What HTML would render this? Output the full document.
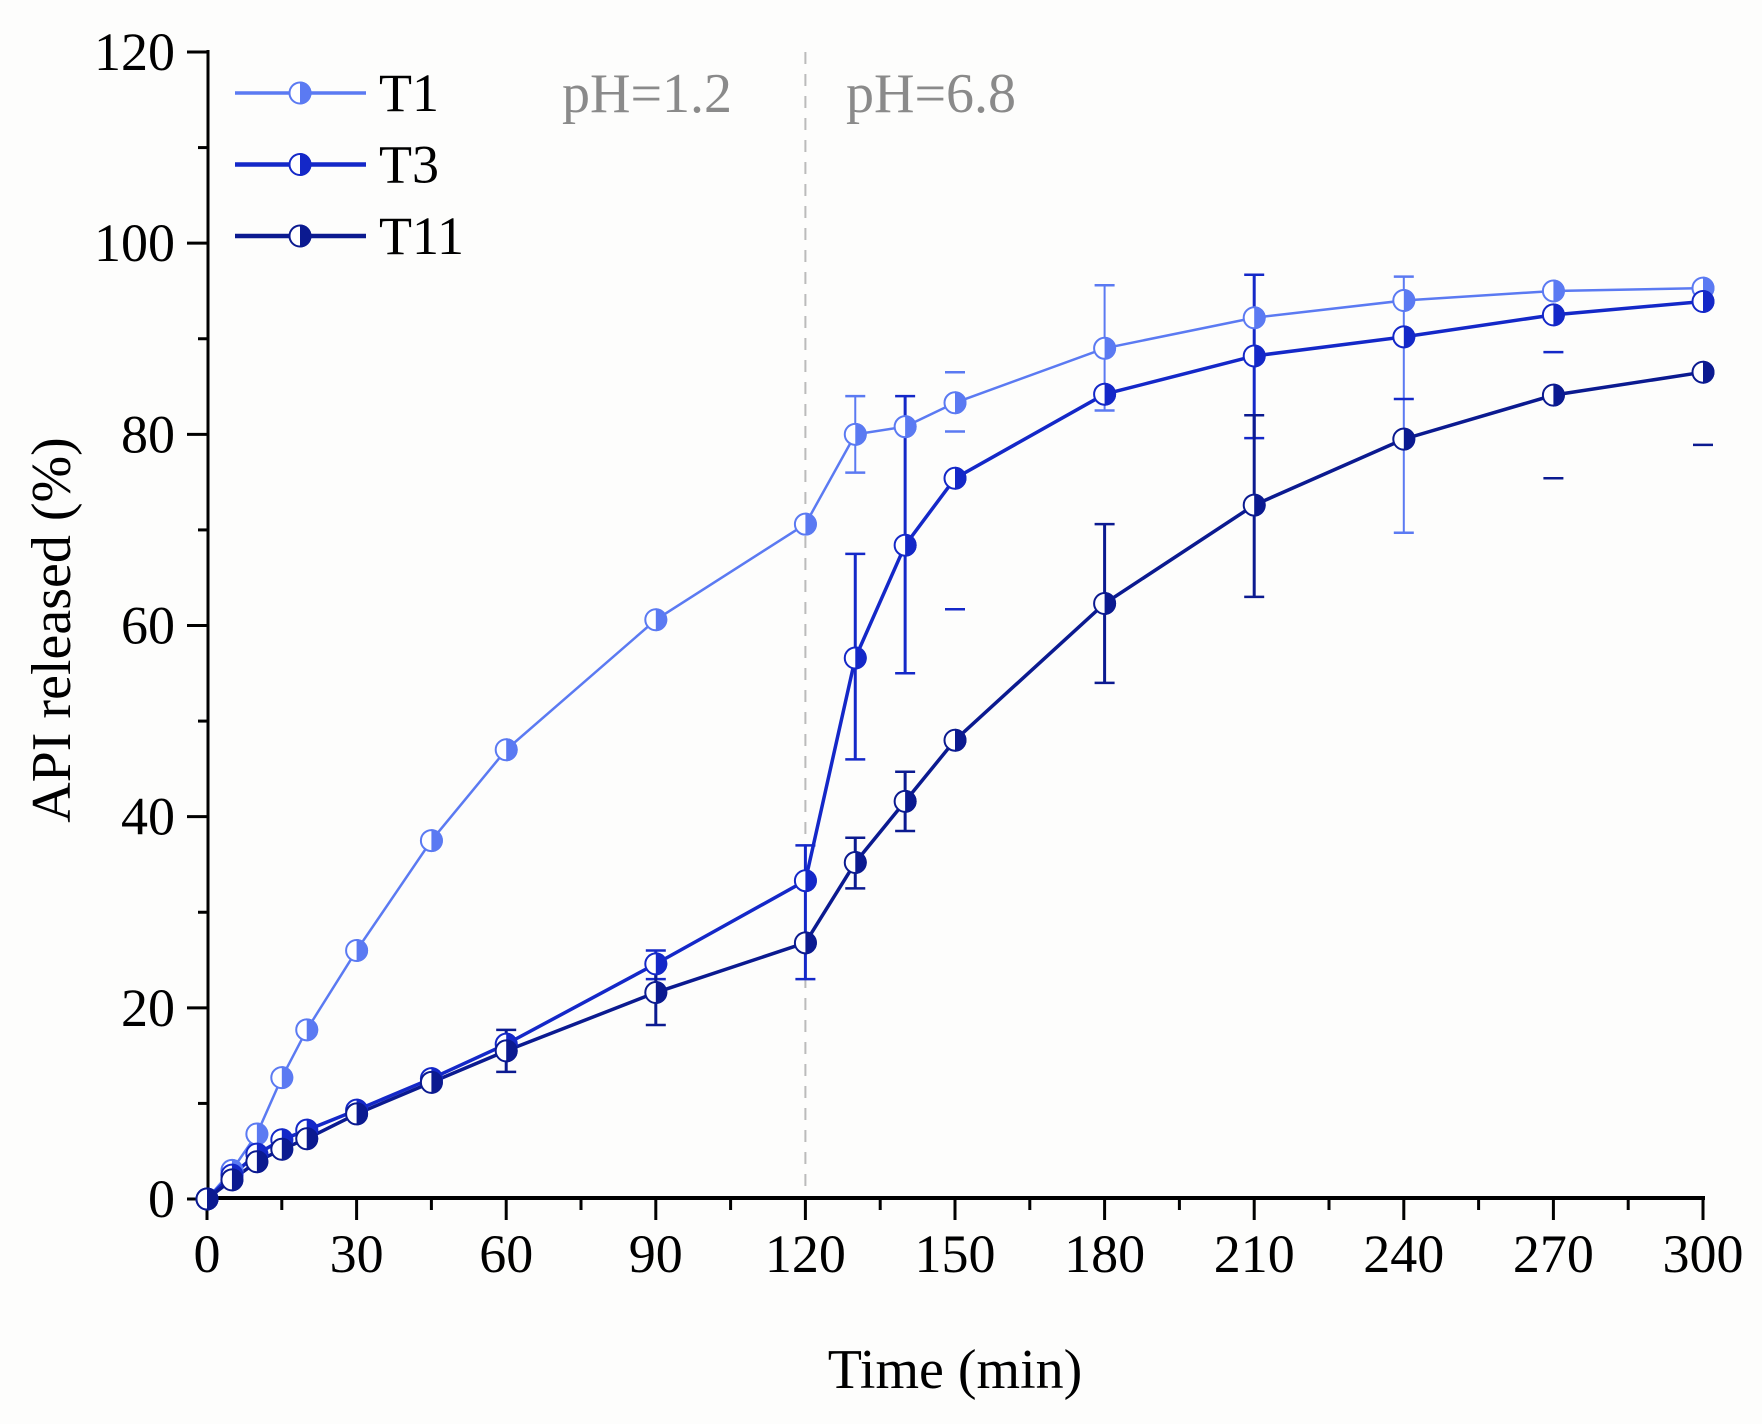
<!DOCTYPE html>
<html><head><meta charset="utf-8"><style>
html,body{margin:0;padding:0;background:#fdfdfc;}
svg{display:block;font-family:"Liberation Serif",serif;}
</style></head><body>
<svg id="s" width="1762" height="1424" viewBox="0 0 1762 1424" xmlns="http://www.w3.org/2000/svg">
<rect width="1762" height="1424" fill="#fdfdfc"/>
</svg>
<script>
const s=document.getElementById('s');const NS='http://www.w3.org/2000/svg';
function el(t,a,txt){const e=document.createElementNS(NS,t);for(const k in a)e.setAttribute(k,a[k]);if(txt!==undefined)e.textContent=txt;s.appendChild(e);return e;}
const X=t=>207+t*(1703-207)/300, Y=v=>1199-v*(1199-52)/120;
el('line',{x1:X(120),y1:52,x2:X(120),y2:1198,stroke:'#bbb','stroke-width':2,'stroke-dasharray':'12,10'});
el('line',{x1:208,y1:50,x2:208,y2:1200,stroke:'#000','stroke-width':3});
el('line',{x1:206,y1:1198,x2:1705,y2:1198,stroke:'#000','stroke-width':4});
for(let v=0;v<=120;v+=10){const y=Y(v);const maj=v%20==0;el('line',{x1:maj?187:198,y1:y,x2:208,y2:y,stroke:'#000','stroke-width':3});
 if(maj)el('text',{x:175,y:y+18,'font-size':54,'text-anchor':'end'},v);}
for(let t=0;t<=300;t+=15){const x=X(t);const maj=t%30==0;el('line',{x1:x,y1:1198,x2:x,y2:maj?1220:1210,stroke:'#000','stroke-width':3});
 if(maj)el('text',{x:x,y:1272,'font-size':54,'text-anchor':'middle'},t);}
el('text',{x:955,y:1388,'font-size':56,'text-anchor':'middle'},'Time (min)');
el('text',{x:0,y:0,'font-size':56,'text-anchor':'middle',transform:'translate(70,630) rotate(-90)'},'API released (%)');
el('text',{x:562,y:112,'font-size':56,fill:'#8a8a8a'},'pH=1.2');
el('text',{x:846,y:112,'font-size':56,fill:'#8a8a8a'},'pH=6.8');
const T=[0,5,10,15,20,30,45,60,90,120,130,140,150,180,210,240,270,300];
const S=[
 {n:'T1',c:'#5b7af2',w:2.5,d:[0,3,6.8,12.7,17.7,26,37.5,47,60.6,70.6,80,80.8,83.3,89,92.2,94,95,95.3],
  e:{130:[76,84],180:[82.5,95.6],240:[69.7,96.5]},cap:{150:[80.3,86.5]}},
 {n:'T3',c:'#1428c8',w:3.5,d:[0,2.5,4.7,6.2,7.2,9.3,12.6,16.2,24.6,33.3,56.6,68.4,75.4,84.2,88.2,90.2,92.5,93.9],
  e:{120:[23,37],130:[46,67.5],140:[55,84],210:[79.6,96.7],90:[23,26]},cap:{150:[61.7],240:[83.7],270:[88.6]}},
 {n:'T11',c:'#0b1a90',w:3.5,d:[0,2,3.9,5.2,6.3,8.9,12.2,15.5,21.6,26.8,35.2,41.6,48,62.3,72.6,79.5,84.1,86.5],
  e:{60:[13.3,17.7],90:[18.2,25],130:[32.5,37.8],140:[38.5,44.7],180:[54,70.6],210:[63,82]},cap:{270:[75.4],300:[78.9]}}
];
S.forEach(sr=>{for(const t in sr.e){let [a,b]=sr.e[t];const x=X(+t);
 el('line',{x1:x,y1:Y(a),x2:x,y2:Y(b),stroke:sr.c,'stroke-width':sr.w-0.5});
 el('line',{x1:x-10,y1:Y(a),x2:x+10,y2:Y(a),stroke:sr.c,'stroke-width':2.5});
 el('line',{x1:x-10,y1:Y(b),x2:x+10,y2:Y(b),stroke:sr.c,'stroke-width':2.5});}
 for(const t in sr.cap){const x=X(+t);sr.cap[t].forEach(v=>el('line',{x1:x-10,y1:Y(v),x2:x+10,y2:Y(v),stroke:sr.c,'stroke-width':2.5}));}});
function marker(x,y,c){el('circle',{cx:x,cy:y,r:10.5,fill:'#fff',stroke:c,'stroke-width':2});
 el('path',{d:`M${x},${y-11.5} A11.5,11.5 0 0 1 ${x},${y+11.5} Z`,fill:c});}
S.forEach(sr=>{el('polyline',{points:T.map((t,i)=>X(t)+','+Y(sr.d[i])).join(' '),fill:'none',stroke:sr.c,'stroke-width':sr.w});});
S.forEach(sr=>{T.forEach((t,i)=>marker(X(t),Y(sr.d[i]),sr.c));});
S.forEach((sr,i)=>{const y=93+i*71.5;el('line',{x1:235,y1:y,x2:366,y2:y,stroke:sr.c,'stroke-width':sr.w+1});marker(300,y,sr.c);
 el('text',{x:379,y:y+18,'font-size':54},sr.n);});
</script>
</body></html>
